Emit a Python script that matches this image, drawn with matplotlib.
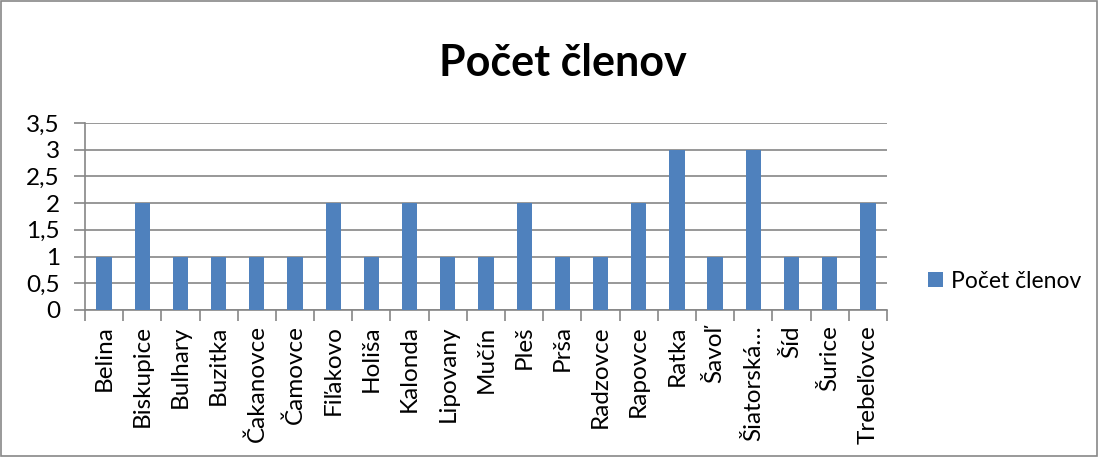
import matplotlib as mtl
mtl.use('Agg')
import matplotlib.pyplot as plt
import numpy as np
from matplotlib.patches import Rectangle

# data
obce = ['Belina', 'Biskupice', 'Bulhary', 'Buzitka', 'Čakanovce', 'Čamovce',
        'Fiľakovo', 'Holiša', 'Kalonda', 'Lipovany', 'Mučín', 'Pleš', 'Prša',
        'Radzovce', 'Rapovce', 'Ratka', 'Šavoľ', 'Šiatorská…', 'Šíd',
        'Šurice', 'Trebeľovce']
pocet = [1, 2, 1, 1, 1, 1, 2, 1, 2, 1, 1, 2, 1, 1, 2, 3, 1, 3, 1, 1, 2]
yticks = [0, 0.5, 1, 1.5, 2, 2.5, 3, 3.5]
ylabels = ['0', '0,5', '1', '1,5', '2', '2,5', '3', '3,5']

plt.rcParams['font.family'] = ['Lato', 'DejaVu Sans']
blue = '#4F81BD'
grid = '#868686'

fig = plt.figure(figsize=(10.99, 4.57), dpi=100)
ax = fig.add_axes([0.0773, 0.3217, 0.7298, 0.4093])

x = np.arange(len(obce))
ax.bar(x, pocet, width=0.4, color=blue, label='Počet členov', zorder=3)

ax.set_xlim(-0.5, len(obce) - 0.5)
ax.set_ylim(0, 3.5)
ax.set_yticks(yticks)
ax.set_yticklabels(ylabels, fontsize=17.5)
ax.yaxis.grid(True, color=grid, linewidth=1.2, zorder=0)
ax.tick_params(axis='y', length=8, color=grid, width=1.2, pad=10)

# category labels between boundary ticks, like Excel
ax.set_xticks(x)
ax.set_xticklabels(obce, rotation=90, fontsize=17.5)
ax.tick_params(axis='x', length=0, pad=11)
ax.set_xticks(np.arange(-0.5, len(obce), 1), minor=True)
ax.tick_params(axis='x', which='minor', length=8, color=grid, width=1.2)

for s in ['top', 'right']:
    ax.spines[s].set_visible(False)
ax.spines['left'].set_color(grid)
ax.spines['left'].set_linewidth(1.2)
ax.spines['bottom'].set_color(grid)
ax.spines['bottom'].set_linewidth(1.2)

fig.text(0.512, 0.862, 'Počet členov', fontsize=31, fontweight='bold',
         ha='center', va='center')

fig.legend(loc='center left', bbox_to_anchor=(0.826, 0.385), frameon=False,
           fontsize=16.5, handlelength=0.65, handleheight=0.65, handletextpad=0.35)

fig.patches.append(Rectangle((0.001, 0.002), 0.997, 0.995, transform=fig.transFigure,
                             fill=False, edgecolor='#888888', linewidth=1.2))

fig.savefig('out.png', dpi=100)
